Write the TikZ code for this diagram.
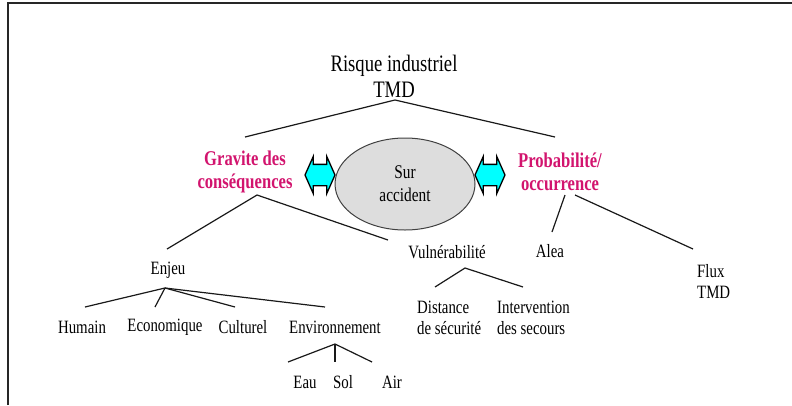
\documentclass[tikz,border=0pt]{standalone}
\usepackage{fontspec}
\setmainfont{Liberation Serif}[FakeStretch=0.79]
\usetikzlibrary{shapes.geometric,shapes.arrows}
\definecolor{mag}{RGB}{210,20,110}
\definecolor{cy}{RGB}{0,255,255}
\definecolor{ellgray}{RGB}{221,221,221}
\begin{document}
\begin{tikzpicture}[x=1pt,y=-1pt,
  conn/.style={line width=1.2pt, black!90},
  txt/.style={inner sep=0pt, align=center, font=\fontsize{18.8}{21}\selectfont},
  txtl/.style={inner sep=0pt, align=left, font=\fontsize{18.8}{21}\selectfont},
  big/.style={inner sep=0pt, align=center, font=\fontsize{23.6}{26}\selectfont},
  sub/.style={inner sep=0pt, align=center, text=mag, font=\fontsize{21}{23}\selectfont\bfseries},
  ell/.style={ellipse, draw=black!75, line width=1pt, fill=ellgray, minimum width=140pt, minimum height=92pt, inner sep=0pt, align=center, font=\fontsize{19.4}{23}\selectfont},
  dbl/.style={double arrow, draw=black, line width=1.3pt, fill=cy, inner xsep=0pt, inner ysep=10pt, double arrow head extend=8pt, double arrow tip angle=132, minimum height=30pt, shape border rotate=0}
]
\useasboundingbox (0,0) rectangle (792,405);
\draw[line width=1.6pt, black!85] (8,405) -- (8,3) -- (792,3);

% nodes
\node[big] (risk) at (394,76) {Risque industriel\\TMD};
\node[sub] (grav) at (245,172) {Gravite des\\conséquences};
\node[sub] (prob) at (560,172) {Probabilité/\\occurrence};
\node[ell] (acc) at (405,184) {Sur\\accident};
\node[dbl] (arrL) at (320,175) {};
\node[dbl] (arrR) at (490,175) {};
\node[txt] (enjeu) at (168,270) {Enjeu};
\node[txt] (hum) at (82,327) {Humain};
\node[txt] (eco) at (165,327) {Economique};
\node[txt] (cul) at (243,327) {Culturel};
\node[txt] (env) at (335,327) {Environnement};
\node[txt] (eau) at (305,382) {Eau};
\node[txt] (sol) at (343,382) {Sol};
\node[txt] (air) at (392,382) {Air};
\node[txt] (vul) at (447,252) {Vulnérabilité};
\node[txtl, anchor=west] (dist) at (417,318) {Distance\\de sécurité};
\node[txtl, anchor=west] (int) at (497,318) {Intervention\\des secours};
\node[txt] (alea) at (550,251) {Alea};
\node[txtl, anchor=west] (flux) at (697,281) {Flux\\TMD};

% connector end points
\coordinate (riskJ) at (395,100);
\coordinate (gravT) at (245,137);
\coordinate (probT) at (555,137);
\coordinate (gravB) at (257,195);
\coordinate (enjeuT) at (167,249);
\coordinate (vulT) at (388,240);
\coordinate (probB1) at (565,195);
\coordinate (probB2) at (575,195);
\coordinate (aleaT) at (552,232);
\coordinate (fluxT) at (693,249);
\coordinate (enjeuJ) at (165,288);
\coordinate (humT) at (85,307);
\coordinate (ecoT) at (155,307);
\coordinate (culT) at (235,307);
\coordinate (envT) at (325,307);
\coordinate (envJ) at (335,344);
\coordinate (eauT) at (288,362);
\coordinate (solT) at (335,362);
\coordinate (airT) at (372,362);
\coordinate (vulJ) at (465,268);
\coordinate (distT) at (435,287);
\coordinate (intT) at (523,287);

% connectors
\draw[conn] (gravT) -- (riskJ) -- (probT);
\draw[conn] (enjeuT) -- (gravB) -- (vulT);
\draw[conn] (aleaT) -- (probB1);
\draw[conn] (probB2) -- (fluxT);
\draw[conn] (enjeuJ) -- (humT);
\draw[conn] (enjeuJ) -- (ecoT);
\draw[conn] (enjeuJ) -- (culT);
\draw[conn] (enjeuJ) -- (envT);
\draw[conn] (envJ) -- (eauT);
\draw[conn] (envJ) -- (solT);
\draw[conn] (envJ) -- (airT);
\draw[conn] (distT) -- (vulJ) -- (intT);
\end{tikzpicture}
\end{document}
